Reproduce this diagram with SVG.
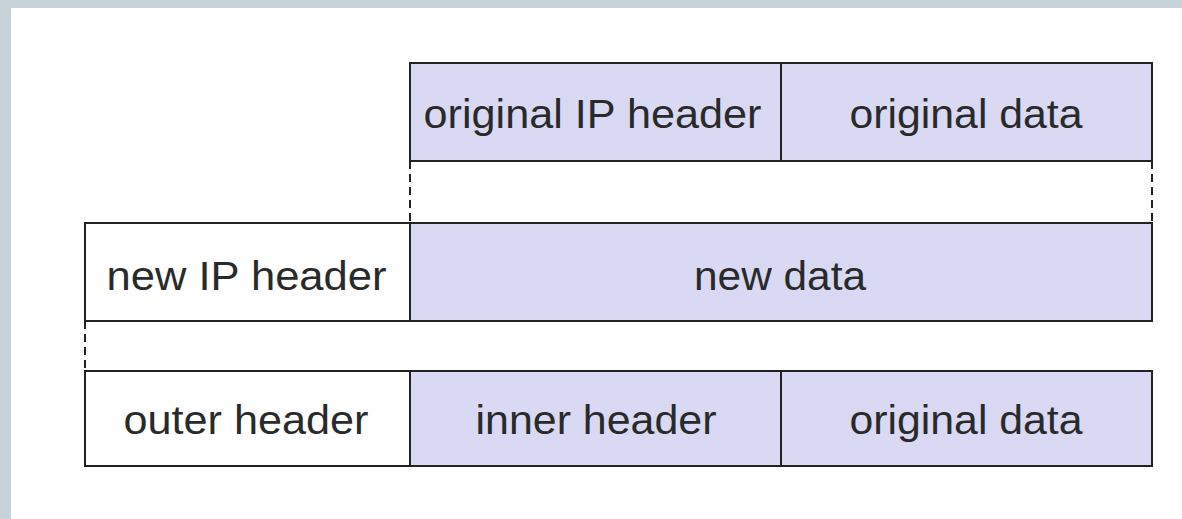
<svg xmlns="http://www.w3.org/2000/svg" width="1182" height="519" viewBox="0 0 1182 519">
  <style>
    .cell { stroke: #222; stroke-width: 2; }
    .hdr { fill: #ffffff; }
    .pay { fill: #d9d9f3; }
    .lbl { font-family: "Liberation Sans", Arial, sans-serif; font-size: 40px; fill: #2a2a2a; text-anchor: middle; }
    .dash { stroke: #222; stroke-width: 2; stroke-dasharray: 8 5; fill: none; }
  </style>
  <!-- frame -->
  <rect x="0" y="0" width="1182" height="519" fill="#c6d1d8"/>
  <rect x="11" y="8" width="1171" height="511" fill="#ffffff"/>

  <!-- original datagram -->
  <g id="original-ip-header">
    <rect class="cell pay" x="410" y="63" width="371" height="98"/>
    <text class="lbl" x="592.5" y="128" textLength="338" lengthAdjust="spacingAndGlyphs">original IP header</text>
  </g>
  <g id="original-data-top">
    <rect class="cell pay" x="781" y="63" width="371" height="98"/>
    <text class="lbl" x="966" y="128" textLength="233" lengthAdjust="spacingAndGlyphs">original data</text>
  </g>

  <!-- encapsulated datagram -->
  <g id="new-ip-header">
    <rect class="cell hdr" x="85" y="223" width="325" height="98"/>
    <text class="lbl" x="246.5" y="290" textLength="280" lengthAdjust="spacingAndGlyphs">new IP header</text>
  </g>
  <g id="new-data">
    <rect class="cell pay" x="410" y="223" width="742" height="98"/>
    <text class="lbl" x="780" y="290" textLength="172" lengthAdjust="spacingAndGlyphs">new data</text>
  </g>

  <!-- resulting frame -->
  <g id="outer-header">
    <rect class="cell hdr" x="85" y="371" width="325" height="95"/>
    <text class="lbl" x="246" y="434" textLength="245" lengthAdjust="spacingAndGlyphs">outer header</text>
  </g>
  <g id="inner-header">
    <rect class="cell pay" x="410" y="371" width="371" height="95"/>
    <text class="lbl" x="596" y="434" textLength="241" lengthAdjust="spacingAndGlyphs">inner header</text>
  </g>
  <g id="original-data-bottom">
    <rect class="cell pay" x="781" y="371" width="371" height="95"/>
    <text class="lbl" x="966" y="434" textLength="233" lengthAdjust="spacingAndGlyphs">original data</text>
  </g>

  <!-- dashed extent guides -->
  <g id="connectors">
    <line class="dash" x1="410" y1="161" x2="410" y2="223"/>
    <line class="dash" x1="1152" y1="161" x2="1152" y2="223"/>
    <line class="dash" x1="85" y1="321" x2="85" y2="371"/>
  </g>
</svg>
